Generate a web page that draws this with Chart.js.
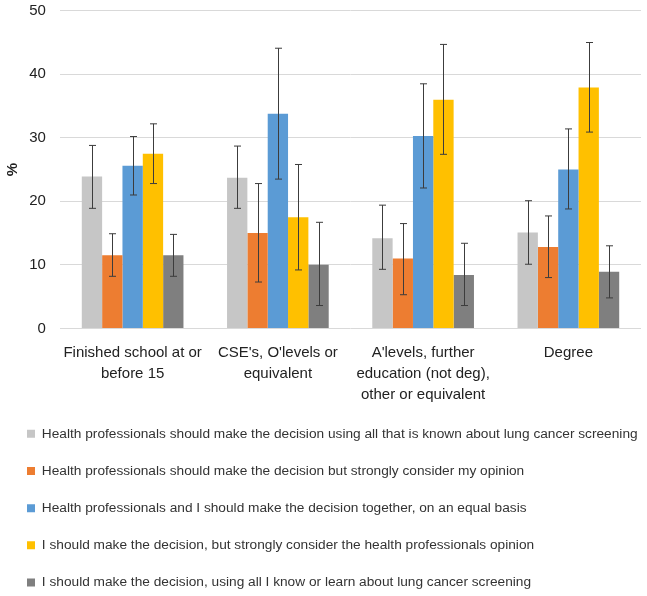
<!DOCTYPE html>
<html>
<head>
<meta charset="utf-8">
<script src="https://cdn.jsdelivr.net/npm/chart.js@4.4.1/dist/chart.umd.min.js"></script>
<style>
  html, body { margin: 0; padding: 0; background: #fff; }
  #wrap { width: 647px; height: 596px; }
</style>
</head>
<body>
<div id="wrap"><canvas id="chart"></canvas></div>
<script>
const categories = [
  ['Finished school at or', 'before 15'],
  ["CSE's, O'levels or", 'equivalent'],
  ["A'levels, further", 'education (not deg),', 'other or equivalent'],
  'Degree'
];

const seriesNames = [
  'Health professionals should make the decision using all that is known about lung cancer screening',
  'Health professionals should make the decision but strongly consider my opinion',
  'Health professionals and I should make the decision together, on an equal basis',
  'I should make the decision, but strongly consider the health professionals opinion',
  'I should make the decision, using all I know or learn about lung cancer screening'
];

const seriesColors = ['#c6c6c6', '#ed7d31', '#5b9bd5', '#ffc000', '#7f7f7f'];

// percentages per series, one value per category
const hpAll      = [23.9, 23.7, 14.2, 15.1];
const hpOpinion  = [11.5, 15.0, 11.0, 12.8];
const together   = [25.6, 33.8, 30.3, 25.0];
const meHp       = [27.5, 17.5, 36.0, 37.9];
const meAll      = [11.5, 10.0,  8.4,  8.9];

// error bar bounds (low / high)
const hpAllLow      = [18.9, 18.9,  9.3, 10.1];
const hpAllHigh     = [28.8, 28.7, 19.4, 20.1];
const hpOpinionLow  = [ 8.2,  7.3,  5.3,  8.0];
const hpOpinionHigh = [14.9, 22.8, 16.5, 17.7];
const togetherLow   = [21.0, 23.5, 22.1, 18.8];
const togetherHigh  = [30.2, 44.1, 38.5, 31.4];
const meHpLow       = [22.8,  9.2, 27.4, 30.9];
const meHpHigh      = [32.2, 25.8, 44.7, 45.0];
const meAllLow      = [ 8.2,  3.6,  3.6,  4.8];
const meAllHigh     = [14.8, 16.7, 13.4, 13.0];

const yTicks = [0, 10, 20, 30, 40, 50];

const values = [hpAll, hpOpinion, together, meHp, meAll];
const lows = [hpAllLow, hpOpinionLow, togetherLow, meHpLow, meAllLow];
const highs = [hpAllHigh, hpOpinionHigh, togetherHigh, meHpHigh, meAllHigh];

const FONT = '"Liberation Sans", Arial, sans-serif';

// draws the whiskers on top of each bar
const errorBars = {
  id: 'errorBars',
  afterDatasetsDraw(chart) {
    const ctx = chart.ctx;
    const y = chart.scales.y;
    ctx.save();
    ctx.strokeStyle = '#3c3c3c';
    ctx.lineWidth = 1;
    chart.data.datasets.forEach((ds, d) => {
      const meta = chart.getDatasetMeta(d);
      meta.data.forEach((bar, i) => {
        const x = Math.round(bar.x) + 0.5;
        const top = y.getPixelForValue(ds.high[i]);
        const bot = y.getPixelForValue(ds.low[i]);
        ctx.beginPath();
        ctx.moveTo(x, top);
        ctx.lineTo(x, bot);
        ctx.moveTo(x - 3.5, top);
        ctx.lineTo(x + 3.5, top);
        ctx.moveTo(x - 3.5, bot);
        ctx.lineTo(x + 3.5, bot);
        ctx.stroke();
      });
    });
    ctx.restore();
  }
};

const datasets = seriesNames.map((name, i) => ({
  label: name,
  data: values[i],
  low: lows[i],
  high: highs[i],
  backgroundColor: seriesColors[i],
  borderWidth: 0,
  categoryPercentage: 0.7,
  barPercentage: 1.0
}));

new Chart(document.getElementById('chart'), {
  type: 'bar',
  data: { labels: categories, datasets },
  plugins: [errorBars],
  options: {
    responsive: true,
    maintainAspectRatio: false,
    animation: false,
    layout: { padding: { left: 3.5, right: 6, top: 2, bottom: -3.4 } },
    plugins: {
      tooltip: { enabled: false },
      legend: {
        position: 'bottom',
        align: 'start',
        labels: {
          boxWidth: 8,
          boxHeight: 8,
          padding: 23.5,
          color: '#333',
          font: { family: FONT, size: 13.7 }
        }
      }
    },
    scales: {
      x: {
        afterFit: (scale) => { scale.height = 75; },
        grid: { display: false },
        border: { display: false },
        ticks: {
          color: '#222',
          padding: 6,
          maxRotation: 0,
          autoSkip: false,
          font: { family: FONT, size: 15, lineHeight: 1.4 }
        }
      },
      y: {
        min: 0,
        max: 50,
        afterBuildTicks: (scale) => { scale.ticks = yTicks.map(v => ({ value: v })); },
        afterFit: (scale) => { scale.width = 56.5; },
        grid: { color: '#d9d9d9', drawTicks: false },
        border: { display: false },
        title: {
          display: true,
          text: '%',
          color: '#222',
          padding: 0,
          font: { family: FONT, size: 15, weight: 'bold' }
        },
        ticks: {
          color: '#222',
          padding: 10,
          callback: (v) => v + ' ',
          font: { family: FONT, size: 15, lineHeight: 0.1 }
        }
      }
    }
  }
});
</script>
</body>
</html>
